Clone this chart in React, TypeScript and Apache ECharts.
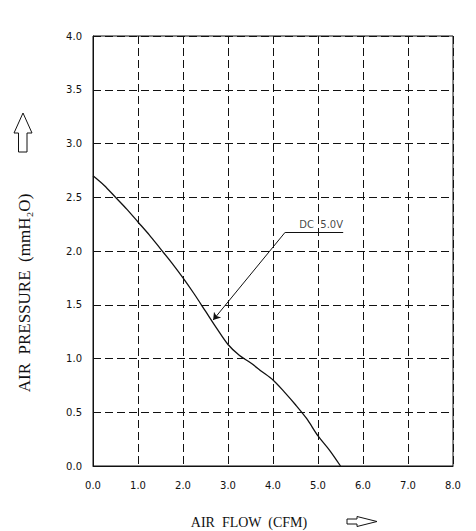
import React, { useEffect, useRef } from "react";
import * as echarts from "echarts";

const flow = [0, 0.25, 0.5, 0.75, 1.0, 1.25, 1.5, 1.75, 2.0, 2.25, 2.5, 2.75, 3.0, 3.25, 3.5, 3.75, 4.0, 4.25, 4.5, 4.75, 5.0, 5.25, 5.5];
const pressure = [2.7, 2.61, 2.5, 2.39, 2.27, 2.15, 2.02, 1.89, 1.75, 1.6, 1.44, 1.28, 1.13, 1.03, 0.96, 0.88, 0.8, 0.69, 0.57, 0.44, 0.28, 0.15, 0.0];

const leaderX = [5.56, 4.27, 2.67];
const leaderY = [2.174, 2.174, 1.358];
const labelPos = [5.07, 2.174];
const labelText = "DC  5.0V";

const xTicks = ["0.0", "1.0", "2.0", "3.0", "4.0", "5.0", "6.0", "7.0", "8.0"];
const yTicks = ["0.0", "0.5", "1.0", "1.5", "2.0", "2.5", "3.0", "3.5", "4.0"];

export default function App() {
  const ref = useRef<HTMLDivElement>(null);
  useEffect(() => {
    document.body.style.margin = "0";
    if (!ref.current) return;
    const chart = echarts.init(ref.current, null, { renderer: "svg" });
    const ink = "#111";
    const gridLine = { show: true, lineStyle: { color: ink, type: [8, 4], width: 1 } };
    chart.setOption({
      animation: false,
      backgroundColor: "#fff",
      grid: { left: 93, right: 23, top: 36, bottom: 65, show: true, borderColor: ink, borderWidth: 1 },
      xAxis: {
        type: "value",
        min: 0,
        max: 8,
        interval: 1,
        axisLine: { show: true, lineStyle: { color: ink } },
        axisTick: { show: false },
        splitLine: gridLine,
        axisLabel: {
          margin: 14,
          color: ink,
          fontFamily: "DejaVu Sans",
          fontSize: 10,
          formatter: (v: number) => xTicks[Math.round(v)] ?? v.toFixed(1),
        },
      },
      yAxis: {
        type: "value",
        min: 0,
        max: 4,
        interval: 0.5,
        axisLine: { show: true, lineStyle: { color: ink } },
        axisTick: { show: false },
        splitLine: gridLine,
        axisLabel: {
          margin: 11,
          color: ink,
          fontFamily: "DejaVu Sans",
          fontSize: 10,
          formatter: (v: number) => yTicks[Math.round(v * 2)] ?? v.toFixed(1),
        },
      },
      series: [
        {
          type: "line",
          data: flow.map((x, i) => [x, pressure[i]]),
          smooth: 0.3,
          showSymbol: false,
          lineStyle: { color: ink, width: 1.3 },
        },
        {
          type: "lines",
          coordinateSystem: "cartesian2d",
          symbol: ["none", "none"],
          lineStyle: { color: ink, width: 1, opacity: 1 },
          data: [
            { coords: [[leaderX[0], leaderY[0]], [leaderX[1], leaderY[1]]] },
            {
              coords: [[leaderX[1], leaderY[1]], [leaderX[2], leaderY[2]]],
              symbol: ["none", "arrow"],
              symbolSize: 7,
            },
          ],
        },
        {
          type: "scatter",
          symbolSize: 0,
          data: [labelPos],
          label: {
            show: true,
            position: "top",
            distance: 3,
            formatter: labelText,
            color: ink,
            fontFamily: "DejaVu Sans",
            fontSize: 10,
          },
        },
      ],
      graphic: [
        {
          type: "text",
          x: 24,
          y: 293,
          rotation: Math.PI / 2,
          style: {
            text: "AIR  PRESSURE  (mmH\u2082O)",
            font: "17px 'Liberation Serif'",
            fill: ink,
            textAlign: "center",
            textVerticalAlign: "middle",
          },
        },
        {
          type: "polygon",
          shape: {
            points: [
              [23, 113],
              [32, 133],
              [27, 133],
              [27, 152],
              [18.5, 152],
              [18.5, 133],
              [14, 133],
            ],
          },
          style: { fill: "#fff", stroke: ink, lineWidth: 1 },
        },
        {
          type: "text",
          x: 249,
          y: 522,
          style: {
            text: "AIR  FLOW  (CFM)",
            font: "14px 'Liberation Serif'",
            fill: ink,
            textAlign: "center",
            textVerticalAlign: "middle",
          },
        },
        {
          type: "polygon",
          shape: {
            points: [
              [347, 519],
              [357, 519],
              [357, 516.5],
              [377, 521.5],
              [357, 526.5],
              [357, 524],
              [347, 524],
            ],
          },
          style: { fill: "#fff", stroke: ink, lineWidth: 1 },
        },
      ],
    });
    return () => chart.dispose();
  }, []);
  return <div ref={ref} style={{ width: 476, height: 531 }} />;
}
